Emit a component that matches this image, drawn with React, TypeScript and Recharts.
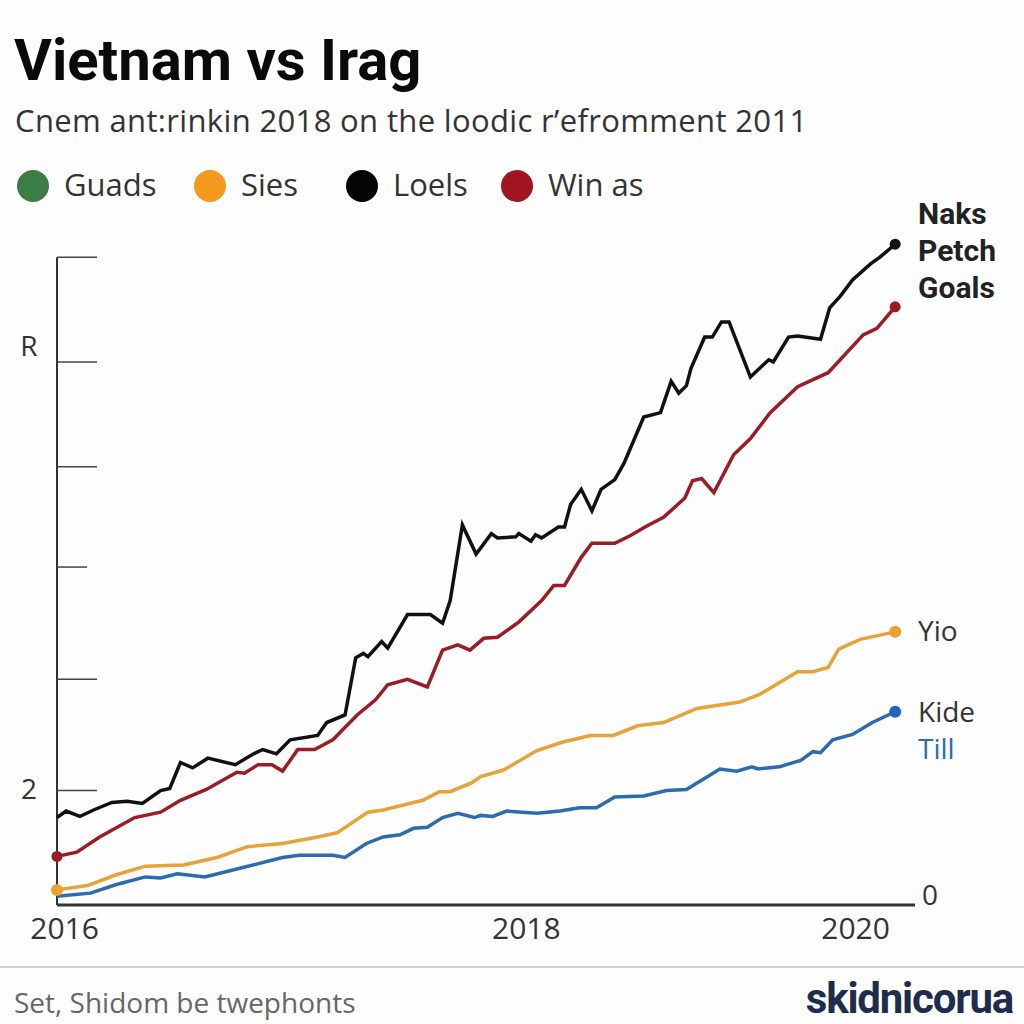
import React from "react";
import { LineChart, Line, XAxis, YAxis, ReferenceLine } from "recharts";

// t = months since start of 2016, v = value on the left scale
const loelsPoints: [number, number][] = [
  [0, 0.81], [0.6, 0.87], [1.5, 0.82], [2.4, 0.88], [3.6, 0.95], [4.6, 0.96],
  [5.6, 0.94], [6.8, 1.06], [7.4, 1.08], [8.1, 1.32], [8.9, 1.27], [9.9, 1.36],
  [11.7, 1.3], [12.9, 1.4], [13.5, 1.44], [14.4, 1.4], [15.3, 1.53], [17.1, 1.57],
  [17.7, 1.69], [18.9, 1.76], [19.6, 2.29], [20.1, 2.33], [20.4, 2.3], [21.3, 2.44],
  [21.7, 2.38], [23.0, 2.69], [24.5, 2.69], [25.3, 2.61], [25.8, 2.82], [26.6, 3.52],
  [27.5, 3.25], [28.5, 3.44], [28.9, 3.4], [30.1, 3.41], [30.3, 3.44], [31.1, 3.37],
  [31.4, 3.43], [31.8, 3.4], [32.9, 3.5], [33.3, 3.5], [33.7, 3.71], [34.4, 3.85],
  [35.1, 3.65], [35.7, 3.85], [36.6, 3.94], [37.2, 4.09], [38.5, 4.52], [39.6, 4.56],
  [40.3, 4.85], [40.8, 4.74], [41.3, 4.81], [41.6, 4.97], [42.5, 5.26], [43.0, 5.26],
  [43.6, 5.4], [44.1, 5.4], [45.5, 4.89], [46.7, 5.05], [47.0, 5.03], [48.0, 5.26],
  [48.6, 5.27], [50.1, 5.24], [50.7, 5.53], [51.4, 5.64], [52.2, 5.79], [53.4, 5.94],
  [54.0, 6.0], [55.0, 6.12],
];

const winAsPoints: [number, number][] = [
  [0, 0.45], [1.3, 0.49], [2.8, 0.63], [5.1, 0.81], [6.8, 0.86], [8.1, 0.97],
  [9.8, 1.07], [11.8, 1.23], [12.3, 1.22], [13.2, 1.3], [14.1, 1.3], [14.8, 1.24],
  [15.8, 1.44], [16.9, 1.44], [18.1, 1.53], [19.7, 1.76], [20.9, 1.9], [21.7, 2.04],
  [23.0, 2.09], [24.3, 2.02], [25.3, 2.36], [26.3, 2.41], [27.1, 2.36], [28.0, 2.47],
  [28.9, 2.48], [30.3, 2.62], [31.8, 2.82], [32.6, 2.96], [33.3, 2.96], [34.4, 3.22],
  [35.1, 3.35], [36.6, 3.35], [37.6, 3.42], [38.7, 3.51], [39.8, 3.59], [41.2, 3.77],
  [41.7, 3.93], [42.3, 3.95], [43.1, 3.82], [44.4, 4.17], [45.5, 4.32], [46.8, 4.56],
  [48.6, 4.8], [50.6, 4.93], [52.9, 5.28], [53.8, 5.34], [55.0, 5.54],
];

const siesPoints: [number, number][] = [
  [0, 0.14], [2.0, 0.18], [3.9, 0.28], [5.8, 0.36], [8.3, 0.37], [10.5, 0.44],
  [12.5, 0.54], [14.8, 0.57], [17.1, 0.63], [18.4, 0.67], [20.4, 0.86], [21.4, 0.88],
  [24.0, 0.97], [25.1, 1.05], [25.8, 1.05], [27.2, 1.13], [27.8, 1.19], [29.3, 1.25],
  [31.5, 1.43], [33.2, 1.51], [35.0, 1.57], [36.5, 1.57], [38.1, 1.66], [39.8, 1.69],
  [42.0, 1.82], [44.8, 1.88], [46.1, 1.95], [48.6, 2.16], [49.6, 2.16], [50.6, 2.2],
  [51.3, 2.37], [52.7, 2.46], [55.0, 2.53],
];

const tillPoints: [number, number][] = [
  [0, 0.08], [2.2, 0.11], [3.9, 0.19], [5.8, 0.26], [6.8, 0.25], [7.9, 0.29],
  [9.7, 0.26], [12.0, 0.34], [14.8, 0.44], [15.9, 0.46], [18.1, 0.46], [18.9, 0.44],
  [20.3, 0.57], [21.4, 0.63], [22.5, 0.65], [23.4, 0.71], [24.3, 0.72], [25.3, 0.81],
  [26.3, 0.85], [27.4, 0.81], [27.8, 0.83], [28.6, 0.82], [29.5, 0.87], [31.5, 0.85],
  [33.0, 0.87], [34.3, 0.9], [35.4, 0.9], [36.6, 1.0], [38.5, 1.01], [40.0, 1.06],
  [41.3, 1.07], [43.5, 1.26], [44.6, 1.24], [45.6, 1.28], [46.0, 1.26], [47.4, 1.28],
  [48.8, 1.34], [49.6, 1.42], [50.1, 1.41], [50.9, 1.53], [52.2, 1.58], [53.5, 1.69],
  [55.0, 1.79],
];

const xTicks = [0.5, 30.8, 52.4];
const xTickLabels = ["2016", "2018", "2020"];
const yTicks = [1.06, 2.09, 3.13, 4.06, 5.03, 6.0];
const yTickLabels = ["2", "", "", "", "R", ""];

const legendNames = ["Guads", "Sies", "Loels", "Win as"];
const legendColors = ["#3b7d45", "#f39a1e", "#050505", "#a01520"];

const toRows = (pts: [number, number][]) => pts.map(([t, v]) => ({ t, v }));

const sans = "'Open Sans', 'Noto Sans', sans-serif";
const bold = "Roboto, 'Noto Sans', sans-serif";

const makeDot = (color: string, count: number, withStart: boolean, r: number) =>
  (p: any) => {
    const show = p.index === count - 1 || (withStart && p.index === 0);
    if (!show) return <g key={`e-${p.index}`} />;
    return <circle key={`d-${p.index}`} cx={p.cx} cy={p.cy} r={r} fill={color} />;
  };

const YTick = (props: any) => {
  const { x, y, index } = props;
  const label = yTickLabels[index] || "";
  const len = index === 2 ? 30 : 40;
  return (
    <g>
      <line x1={x} x2={x + len} y1={y} y2={y} stroke="#444" strokeWidth={1.5} />
      {label && (
        <text
          x={x - 28}
          y={label === "R" ? y - 17 : y - 3}
          textAnchor="middle"
          dominantBaseline="central"
          fontFamily={sans}
          fontSize={28}
          fill="#333"
        >
          {label}
        </text>
      )}
    </g>
  );
};

const XTick = (props: any) => {
  const { x, y, index } = props;
  return (
    <text
      x={x}
      y={y + 22}
      textAnchor="middle"
      dominantBaseline="central"
      fontFamily={sans}
      fontSize={30}
      fill="#333"
    >
      {xTickLabels[index]}
    </text>
  );
};

export default function App() {
  return (
    <div
      style={{
        position: "absolute",
        left: 0,
        top: 0,
        width: 1024,
        height: 1024,
        background: "#fdfdfd",
        overflow: "hidden",
      }}
    >
      <LineChart
        width={1024}
        height={1024}
        margin={{ top: 214, right: 109, bottom: 79, left: 17 }}
        style={{ position: "absolute", left: 0, top: 0 }}
      >
        <XAxis
          dataKey="t"
          type="number"
          domain={[0, 56.3]}
          ticks={xTicks}
          tick={<XTick />}
          tickLine={false}
          tickSize={0}
          tickMargin={0}
          height={40}
          axisLine={{ stroke: "#333", strokeWidth: 3 }}
          allowDuplicatedCategory={false}
        />
        <YAxis
          type="number"
          domain={[0, 6.4]}
          ticks={yTicks}
          tick={<YTick />}
          tickLine={false}
          tickSize={0}
          tickMargin={0}
          axisLine={false}
          width={40}
        />
        <ReferenceLine
          segment={[
            { x: 0, y: 0 },
            { x: 0, y: 6 },
          ]}
          stroke="#333"
          strokeWidth={2}
        />
        <Line
          data={toRows(tillPoints)}
          dataKey="v"
          type="linear"
          stroke="#2b6cb0"
          strokeWidth={3.5}
          dot={makeDot("#1f66c2", tillPoints.length, false, 6)}
          activeDot={false}
          isAnimationActive={false}
        />
        <Line
          data={toRows(siesPoints)}
          dataKey="v"
          type="linear"
          stroke="#e9a13a"
          strokeWidth={3.5}
          dot={makeDot("#eba032", siesPoints.length, true, 6)}
          activeDot={false}
          isAnimationActive={false}
        />
        <Line
          data={toRows(winAsPoints)}
          dataKey="v"
          type="linear"
          stroke="#9a1c24"
          strokeWidth={3.5}
          dot={makeDot("#9a1c24", winAsPoints.length, true, 5.5)}
          activeDot={false}
          isAnimationActive={false}
        />
        <Line
          data={toRows(loelsPoints)}
          dataKey="v"
          type="linear"
          stroke="#111"
          strokeWidth={3.5}
          dot={makeDot("#111", loelsPoints.length, false, 5.5)}
          activeDot={false}
          isAnimationActive={false}
        />
      </LineChart>

      <div
        style={{
          position: "absolute",
          left: 14,
          top: 31,
          fontFamily: bold,
          fontWeight: 700,
          fontSize: 58,
          lineHeight: 1,
          color: "#0a0a0a",
          whiteSpace: "nowrap",
        }}
      >
        Vietnam vs Irag
      </div>
      <div
        style={{
          position: "absolute",
          left: 15,
          top: 105,
          fontFamily: sans,
          fontSize: 31,
          lineHeight: 1,
          letterSpacing: 0.35,
          color: "#333",
          whiteSpace: "nowrap",
        }}
      >
        Cnem ant:rinkin 2018 on the loodic r’efromment 2011
      </div>

      {legendNames.map((name, i) => {
        const cx = [33, 210, 362, 517][i];
        return (
          <div key={name}>
            <div
              style={{
                position: "absolute",
                left: cx - 16,
                top: 170,
                width: 32,
                height: 32,
                borderRadius: "50%",
                background: legendColors[i],
              }}
            />
            <div
              style={{
                position: "absolute",
                left: cx + 31,
                top: 169,
                fontFamily: sans,
                fontSize: 31,
                lineHeight: 1,
                color: "#333",
                whiteSpace: "nowrap",
              }}
            >
              {name}
            </div>
          </div>
        );
      })}

      <div
        style={{
          position: "absolute",
          left: 918,
          top: 195,
          fontFamily: bold,
          fontWeight: 700,
          fontSize: 30,
          lineHeight: "37px",
          color: "#222",
        }}
      >
        <div>Naks</div>
        <div>Petch</div>
        <div>Goals</div>
      </div>
      <div
        style={{
          position: "absolute",
          left: 918,
          top: 616,
          fontFamily: sans,
          fontSize: 28,
          lineHeight: 1,
          color: "#333",
        }}
      >
        Yio
      </div>
      <div
        style={{
          position: "absolute",
          left: 918,
          top: 693,
          fontFamily: sans,
          fontSize: 28,
          lineHeight: "37px",
        }}
      >
        <div style={{ color: "#333" }}>Kide</div>
        <div style={{ color: "#2a6db0" }}>Till</div>
      </div>
      <div
        style={{
          position: "absolute",
          left: 922,
          top: 880,
          fontFamily: sans,
          fontSize: 28,
          lineHeight: 1,
          color: "#333",
        }}
      >
        0
      </div>

      <div
        style={{
          position: "absolute",
          left: 0,
          top: 966,
          width: 1024,
          height: 2,
          background: "#cfcfcf",
        }}
      />
      <div
        style={{
          position: "absolute",
          left: 14,
          top: 988,
          fontFamily: sans,
          fontSize: 28,
          lineHeight: 1,
          color: "#666",
          whiteSpace: "nowrap",
        }}
      >
        Set, Shidom be twephonts
      </div>
      <div
        style={{
          position: "absolute",
          right: 11,
          top: 978,
          fontFamily: bold,
          fontWeight: 700,
          fontSize: 42,
          lineHeight: 1,
          letterSpacing: -1.2,
          color: "#1f2d4d",
          whiteSpace: "nowrap",
        }}
      >
        skidnicorua
      </div>
    </div>
  );
}
